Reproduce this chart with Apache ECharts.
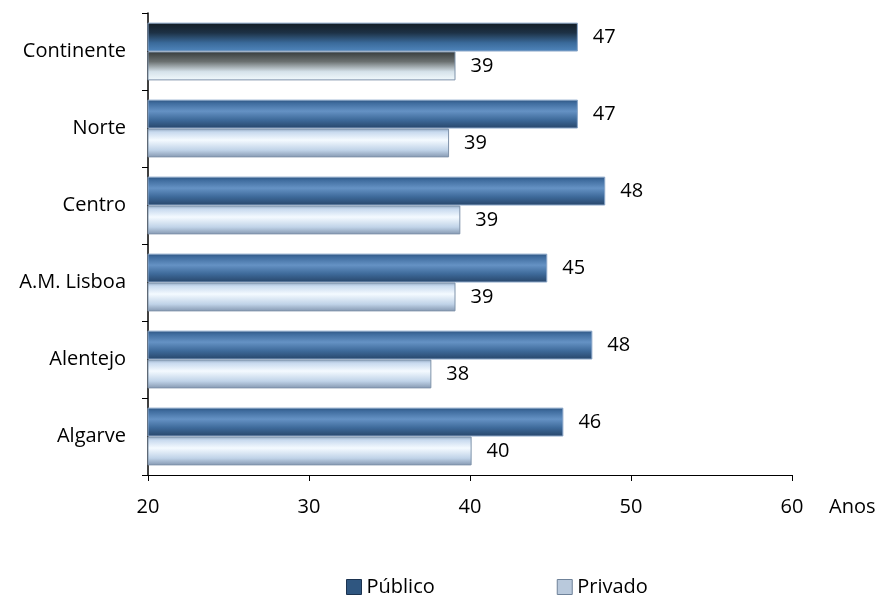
<!DOCTYPE html>
<html><head><meta charset="utf-8">
<script src="https://cdn.jsdelivr.net/npm/echarts@6/dist/echarts.min.js"></script>
<style>html,body{margin:0;padding:0;background:#fff}#c{width:885px;height:601px}</style>
</head><body><div id="c"></div>
<script>
const categories = ['Continente','Norte','Centro','A.M. Lisboa','Alentejo','Algarve'];
const publico = [46.7, 46.7, 48.4, 44.8, 47.6, 45.8];
const privado = [39.1, 38.7, 39.4, 39.1, 37.6, 40.1];
const xTicks = [20, 30, 40, 50, 60];
const seriesNames = ['Público', 'Privado'];

function grad(stops){
  return new echarts.graphic.LinearGradient(0,0,0,1, stops.map(s=>({offset:s[0], color:s[1]})));
}
const pubGrad = grad([[0,'#2e5480'],[0.12,'#3f6c9e'],[0.4,'#6592c4'],[0.7,'#3e6a9a'],[1,'#274569']]);
const pubContGrad = grad([[0,'#121c25'],[0.35,'#1d3145'],[0.7,'#3a6a9a'],[1,'#5086bd']]);
const privGrad = grad([[0,'#8ea4be'],[0.12,'#c7d9ee'],[0.4,'#f4faff'],[0.75,'#c0d3e8'],[1,'#8497b0']]);
const privContGrad = grad([[0,'#363a3b'],[0.35,'#6b7171'],[0.7,'#d5e2ea'],[1,'#f2fafd']]);

const pubData = publico.map((v,i)=>({value:v, itemStyle:{color: i===0?pubContGrad:pubGrad}}));
const privData = privado.map((v,i)=>({value:v, itemStyle:{color: i===0?privContGrad:privGrad}}));

const FS = 20;
const labelStyle = {show:true, position:'right', distance:15, color:'#000', fontSize:FS,
  fontFamily:'Open Sans', formatter:p=>Math.round(p.value)};

const chart = echarts.init(document.getElementById('c'));
chart.setOption({
  animation:false,
  textStyle:{fontFamily:'Open Sans'},
  grid:{left:148, right:93, top:13, bottom:126, containLabel:false},
  legend:{
    top:572, left:341, itemGap:122, itemWidth:15, itemHeight:15,
    textStyle:{fontSize:FS, color:'#000', fontFamily:'Open Sans'},
    data:[{name:seriesNames[0], icon:'rect', itemStyle:{color:'#2f5680', borderColor:'#1c3350', borderWidth:1}},
          {name:seriesNames[1], icon:'rect', itemStyle:{color:'#b9c9dc', borderColor:'#6f8299', borderWidth:1}}]
  },
  xAxis:{
    type:'value', min:xTicks[0], max:xTicks[xTicks.length-1], interval:10,
    name:'Anos', nameLocation:'end', nameGap:37,
    nameTextStyle:{fontSize:FS, color:'#000', verticalAlign:'top', padding:[22,0,0,0]},
    axisLine:{show:true, lineStyle:{color:'#000', width:1}},
    axisTick:{show:true, length:6, lineStyle:{color:'#000'}},
    axisLabel:{fontSize:FS, color:'#000', margin:22},
    splitLine:{show:false}
  },
  yAxis:{
    type:'category', data:categories, inverse:true,
    axisLine:{show:true, lineStyle:{color:'#000', width:1.5}},
    axisTick:{show:true, length:6, lineStyle:{color:'#000'}},
    axisLabel:{fontSize:FS, color:'#000', margin:22}
  },
  series:[
    {name:seriesNames[0], type:'bar', data:pubData, barGap:'0%', barCategoryGap:'25%',
     itemStyle:{borderColor:'#8aa6c8', borderWidth:1}, label:labelStyle},
    {name:seriesNames[1], type:'bar', data:privData,
     itemStyle:{borderColor:'#7f93aa', borderWidth:1}, label:labelStyle}
  ]
});
</script></body></html>
